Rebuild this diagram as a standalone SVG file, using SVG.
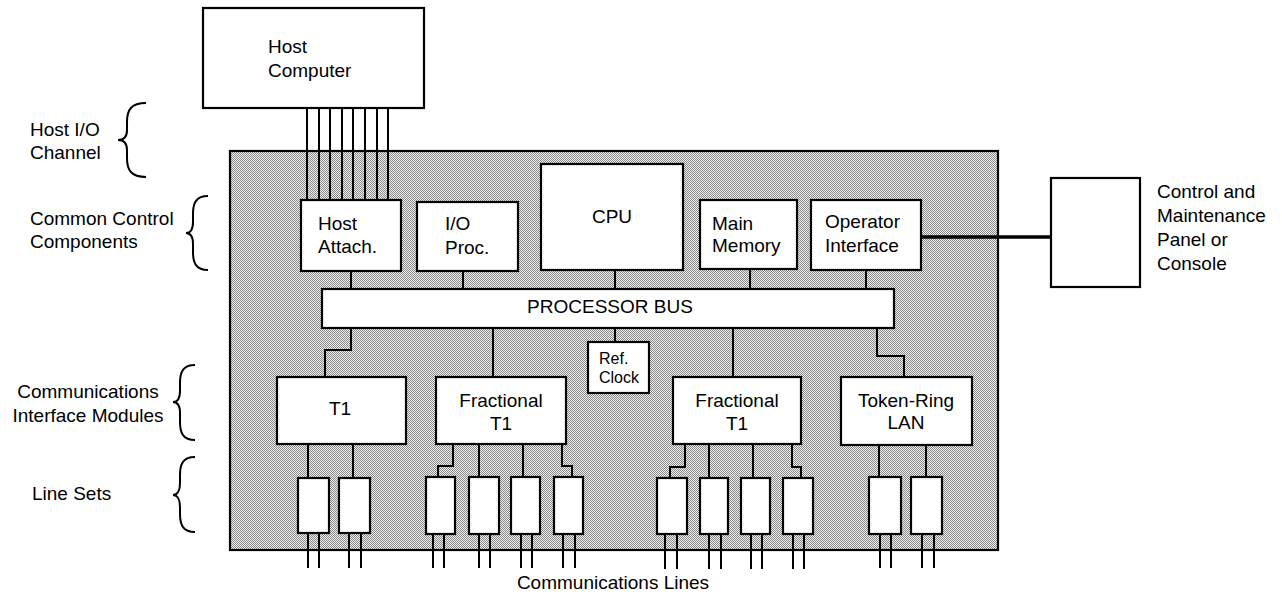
<svg xmlns="http://www.w3.org/2000/svg" width="1282" height="596" viewBox="0 0 1282 596">
<defs>
<pattern id="dots" patternUnits="userSpaceOnUse" width="2" height="2">
<rect width="2" height="2" fill="#eeeeee"/>
<rect x="0" y="0" width="1" height="1" fill="#8a8a8a"/>
<rect x="1" y="1" width="1" height="1" fill="#8a8a8a"/>
</pattern>
</defs>
<style>
.box{fill:#fff;stroke:#000;stroke-width:2.2}
.w{fill:none;stroke:#000;stroke-width:2}
.br{fill:none;stroke:#000;stroke-width:2}
text{font-family:"Liberation Sans",Arial,sans-serif;font-size:19px;fill:#000}
.c{text-anchor:middle}
.s{font-size:16px}
</style>
<rect width="1282" height="596" fill="#fff"/>
<g id="system">
<rect x="230" y="151" width="768" height="399" fill="url(#dots)" stroke="#000" stroke-width="2.2"/>
</g>
<g id="connectors">
<g id="host-channel" class="w">
<path d="M307 108V200M319 108V200M330 108V200M342 108V200M353 108V200M365 108V200M377 108V200M388 108V200"/>
</g>
<path class="w" d="M351 271V289M463 271V289M615 270V289M750 269V289M866 270V289"/>
<path class="w" d="M351 328V350H325V377"/>
<path class="w" d="M493 328V377"/>
<path class="w" d="M615 328V342"/>
<path class="w" d="M733 328V377"/>
<path class="w" d="M877 328V356H904V377"/>
<path fill="none" stroke="#000" stroke-width="3.5" d="M921 237H1051"/>
<path class="w" d="M308 444V478M353 444V478"/>
<path class="w" d="M453 444V466H438V477M479 444V477M523 444V477M562 444V466H572V477"/>
<path class="w" d="M685 444V467H670V478M709 444V478M753 444V478M792 444V467H801V478"/>
<path class="w" d="M879 445V477M926 445V477"/>
<path class="w" d="M308 533V568M319 533V568M349 533V568M361 533V568"/>
<path class="w" d="M433 534V568M444 534V568M479 534V568M490 534V568M521 534V568M532 534V568M563 534V568M575 534V568"/>
<path class="w" d="M665 534V569M677 534V569M709 534V569M721 534V569M751 534V569M762 534V569M793 534V569M804 534V569"/>
<path class="w" d="M880 534V568M891 534V568M922 534V568M934 534V568"/>
</g>
<g id="host-computer">
<rect class="box" x="203" y="8" width="221" height="100"/>
<text x="268" y="53">Host</text>
<text x="268" y="77">Computer</text>
</g>
<g id="host-attach">
<rect class="box" x="301" y="200" width="100" height="71"/>
<text x="318" y="230">Host</text>
<text x="318" y="253">Attach.</text>
</g>
<g id="io-proc">
<rect class="box" x="417" y="202" width="101" height="69"/>
<text x="445" y="230">I/O</text>
<text x="445" y="254">Proc.</text>
</g>
<g id="cpu">
<rect class="box" x="541" y="164" width="142" height="106"/>
<text class="c" x="612" y="223">CPU</text>
</g>
<g id="main-memory">
<rect class="box" x="700" y="200" width="97" height="69"/>
<text x="712" y="230">Main</text>
<text x="712" y="252">Memory</text>
</g>
<g id="operator-interface">
<rect class="box" x="811" y="200" width="110" height="70"/>
<text x="825" y="228">Operator</text>
<text x="825" y="252">Interface</text>
</g>
<g id="console">
<rect class="box" x="1051" y="178" width="89" height="109"/>
<text x="1157" y="198">Control and</text>
<text x="1157" y="222">Maintenance</text>
<text x="1157" y="246">Panel or</text>
<text x="1157" y="270">Console</text>
</g>
<g id="processor-bus">
<rect class="box" x="322" y="289" width="572" height="39"/>
<text class="c" x="610" y="313">PROCESSOR BUS</text>
</g>
<g id="ref-clock">
<rect class="box" x="588" y="342" width="61" height="51"/>
<text class="s" x="599" y="364">Ref.</text>
<text class="s" x="599" y="383">Clock</text>
</g>
<g id="t1">
<rect class="box" x="277" y="377" width="129" height="67"/>
<text class="c" x="340" y="415">T1</text>
</g>
<g id="fractional-t1-a">
<rect class="box" x="436" y="377" width="130" height="67"/>
<text class="c" x="501" y="407">Fractional</text>
<text class="c" x="501" y="430">T1</text>
</g>
<g id="fractional-t1-b">
<rect class="box" x="673" y="377" width="128" height="67"/>
<text class="c" x="737" y="407">Fractional</text>
<text class="c" x="737" y="430">T1</text>
</g>
<g id="token-ring">
<rect class="box" x="841" y="377" width="131" height="68"/>
<text class="c" x="906" y="407">Token-Ring</text>
<text class="c" x="906" y="429">LAN</text>
</g>
<g id="line-sets">
<rect class="box" x="298" y="478" width="31" height="55"/>
<rect class="box" x="339" y="478" width="31" height="55"/>
<rect class="box" x="426" y="477" width="29" height="57"/>
<rect class="box" x="469" y="477" width="30" height="57"/>
<rect class="box" x="511" y="477" width="29" height="57"/>
<rect class="box" x="554" y="477" width="29" height="57"/>
<rect class="box" x="657" y="478" width="30" height="56"/>
<rect class="box" x="700" y="478" width="28" height="56"/>
<rect class="box" x="741" y="478" width="29" height="56"/>
<rect class="box" x="783" y="478" width="30" height="56"/>
<rect class="box" x="869" y="477" width="32" height="57"/>
<rect class="box" x="911" y="477" width="31" height="57"/>
</g>
<g id="labels">
<path class="br" d="M146 103C131 103 127 110 127 122V130C127 136 124 140 118 140C124 140 127 144 127 150V158C127 170 131 177 146 177"/>
<text x="30" y="136">Host I/O</text>
<text x="30" y="159">Channel</text>
<path class="br" d="M208 196C196 196 193 203 193 214V222C193 228 191 233 186 233C191 233 193 238 193 244V252C193 263 196 270 208 270"/>
<text x="30" y="225">Common Control</text>
<text x="30" y="248">Components</text>
<path class="br" d="M195 365C183 365 180 372 180 383V391C180 397 178 402 173 402C178 402 180 407 180 413V422C180 433 183 440 195 440"/>
<text class="c" x="88" y="398">Communications</text>
<text class="c" x="88" y="422">Interface Modules</text>
<path class="br" d="M195 457C183 457 180 464 180 475V483C180 489 178 495 173 495C178 495 180 501 180 507V514C180 525 183 532 195 532"/>
<text x="32" y="500">Line Sets</text>
<text class="c" x="613" y="589">Communications Lines</text>
</g>
</svg>
